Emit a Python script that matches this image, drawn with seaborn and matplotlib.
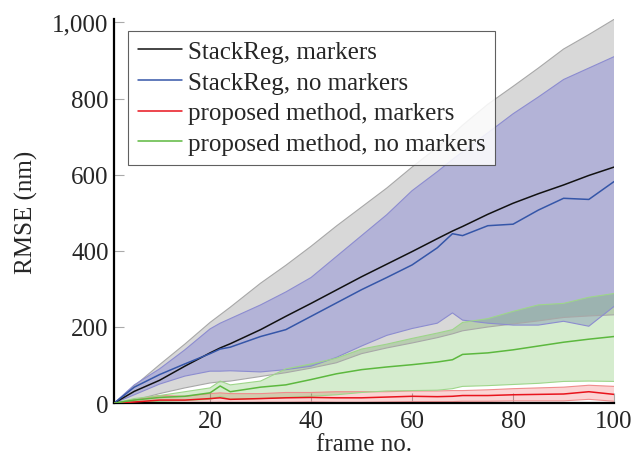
import matplotlib
matplotlib.use('Agg')
import numpy as np
import pandas as pd
import matplotlib.pyplot as plt
import seaborn as sns
from matplotlib.colors import to_rgba
from matplotlib.ticker import FuncFormatter

frames = [1, 5, 10, 15, 20, 22, 24, 30, 35, 40, 45, 50, 55, 60, 65, 68, 70, 75, 80, 85, 90, 95, 100]

# StackReg, markers
sr_m_mean = [0, 31, 60, 97, 132, 145, 156, 193, 228, 262, 297, 332, 365, 398, 432, 452, 464, 496, 525, 550, 573, 598, 620]
sr_m_hi = [0, 45, 101, 155, 212, 232, 252, 315, 362, 412, 465, 515, 565, 620, 672, 705, 730, 785, 832, 880, 930, 968, 1008]
sr_m_lo = [0, 8, 25, 40, 53, 56, 58, 70, 80, 92, 106, 130, 145, 158, 172, 182, 190, 200, 208, 216, 225, 229, 232]

# StackReg, no markers
sr_n_mean = [0, 42, 75, 103, 130, 142, 147, 175, 193, 228, 263, 298, 330, 363, 408, 445, 440, 466, 470, 507, 538, 535, 582]
sr_n_hi = [0, 48, 90, 140, 195, 210, 222, 258, 292, 330, 385, 440, 495, 558, 608, 640, 660, 710, 760, 804, 850, 880, 910]
sr_n_lo = [0, 22, 50, 71, 84, 84, 85, 82, 88, 97, 120, 150, 178, 196, 210, 237, 218, 210, 205, 205, 215, 202, 254]

# proposed method, markers
pm_m_mean = [0, 3, 8, 8, 12, 14, 10, 12, 14, 15, 14, 14, 16, 18, 17, 18, 20, 20, 22, 23, 24, 30, 23]
pm_m_hi = [0, 8, 20, 18, 25, 27, 25, 25, 28, 28, 30, 30, 30, 32, 32, 33, 33, 35, 38, 40, 42, 47, 44]
pm_m_lo = [0, 0, 0, 0, 1, 2, 0, 2, 2, 3, 2, 2, 3, 4, 4, 4, 5, 5, 6, 6, 6, 10, 5]

# proposed method, no markers
pm_n_mean = [0, 8, 15, 18, 27, 45, 30, 42, 48, 62, 77, 88, 95, 101, 108, 114, 128, 132, 140, 150, 160, 168, 175]
pm_n_hi = [0, 12, 20, 30, 40, 58, 48, 58, 90, 103, 118, 142, 155, 170, 184, 193, 212, 222, 241, 258, 262, 278, 288]
pm_n_lo = [0, 3, 5, 7, 10, 18, 10, 12, 15, 18, 22, 28, 32, 33, 34, 38, 44, 46, 49, 52, 57, 58, 57]

labels = ['StackReg, markers', 'StackReg, no markers',
          'proposed method, markers', 'proposed method, no markers']
line_colors = ['#111111', '#3556a8', '#e8141c', '#5cb83e']

df = pd.concat([
    pd.DataFrame({'frame': frames, 'rmse': vals, 'method': lab})
    for vals, lab in zip([sr_m_mean, sr_n_mean, pm_m_mean, pm_n_mean], labels)
])

sns.set_theme(style='ticks')
plt.rcParams['font.family'] = ['Liberation Serif', 'DejaVu Serif']

fig = plt.figure(figsize=(6.41, 4.64), dpi=100)
ax = fig.add_axes([0.178, 0.129, 0.780, 0.828])

# std bands: (lower, upper, fill colour, alpha, edge colour)
bands = [
    (sr_m_lo, sr_m_hi, '#808080', 0.30, '#a8a8a8'),
    (sr_n_lo, sr_n_hi, '#6f6fd6', 0.35, '#8c8cd0'),
    (pm_m_lo, pm_m_hi, '#eb2828', 0.20, '#f08c8c'),
    (pm_n_lo, pm_n_hi, '#5ab43c', 0.25, '#9ed68a'),
]
for lo, hi, fc, a, ec in bands:
    ax.fill_between(frames, lo, hi, facecolor=to_rgba(fc, a), edgecolor='none', zorder=1)
    ax.plot(frames, lo, color=ec, lw=0.8, zorder=1.5)
    ax.plot(frames, hi, color=ec, lw=0.8, zorder=1.5)

sns.lineplot(data=df, x='frame', y='rmse', hue='method', hue_order=labels,
             palette=line_colors, linewidth=1.1, ax=ax, zorder=3)

ax.set_xlim(1, 100)
ax.set_ylim(0, 1009)
ax.set_xticks([20, 40, 60, 80, 100])
ax.set_yticks([0, 200, 400, 600, 800, 1000])
ax.yaxis.set_major_formatter(FuncFormatter(lambda v, p: f'{v:,.0f}'))
ax.set_xlabel('frame no.', fontsize=18, labelpad=0.5)
ax.set_ylabel('RMSE (nm)', fontsize=18, labelpad=10)
ax.tick_params(direction='in', length=7.5, width=0.8, color='#aaaaaa',
               labelsize=18, pad=4)
ax.tick_params(axis='x', pad=5)
sns.despine(ax=ax)
for s in ['left', 'bottom']:
    ax.spines[s].set_color('black')
    ax.spines[s].set_linewidth(1.6)

sns.move_legend(ax, 'upper left', bbox_to_anchor=(0.028, 0.969), title=None,
                frameon=True, fancybox=False, framealpha=0.85, edgecolor='#444444',
                fontsize=18, handlelength=1.76, handletextpad=0.25, labelspacing=0.33,
                borderpad=0.38, borderaxespad=0)
ax.get_legend().get_frame().set_linewidth(0.8)

fig.savefig('out.png', dpi=100)
